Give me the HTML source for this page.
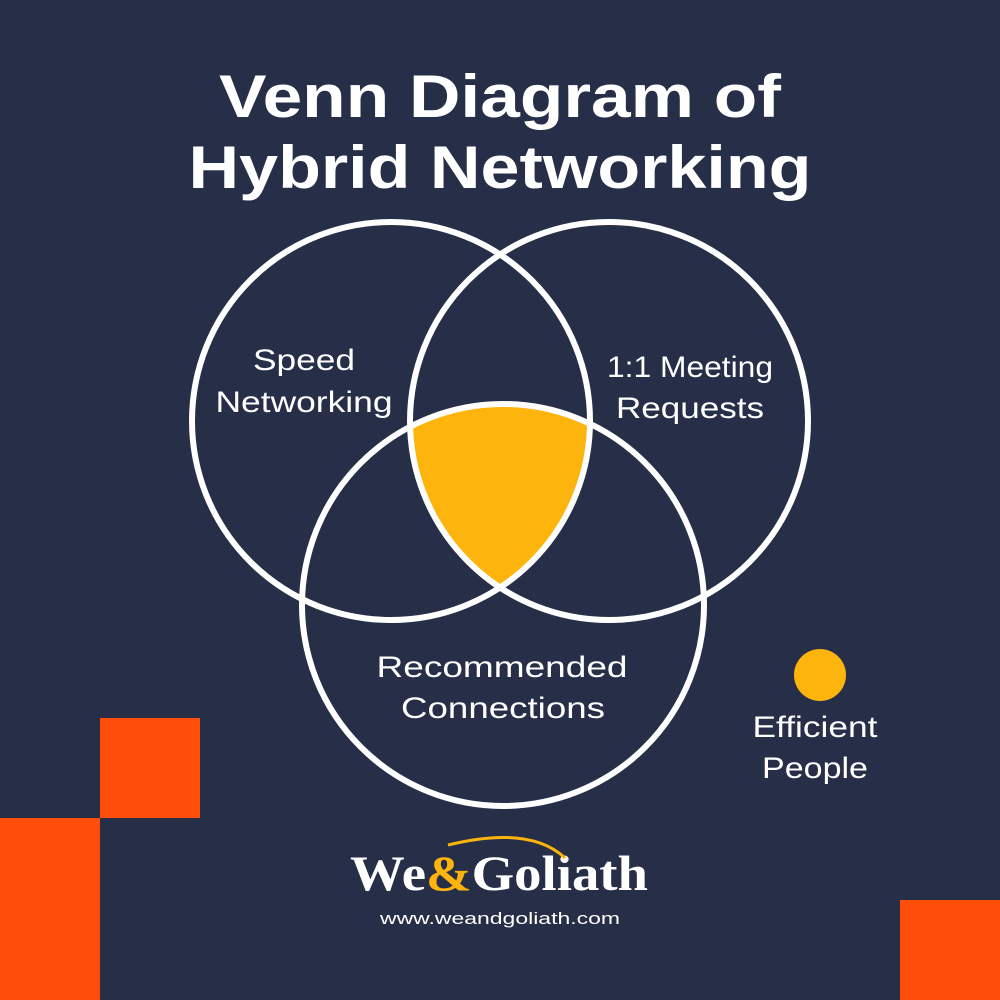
<!DOCTYPE html>
<html><head><meta charset="utf-8"><style>
html,body{margin:0;padding:0;}
body{width:1000px;height:1000px;background:#262f47;overflow:hidden;position:relative;font-family:"Liberation Sans",sans-serif;}
</style></head><body>
<svg width="1000" height="1000" viewBox="0 0 1000 1000" style="position:absolute;left:0;top:0">
<defs>
<clipPath id="c1"><circle cx="391" cy="421" r="199"/></clipPath>
<clipPath id="c2"><circle cx="609" cy="421" r="199"/></clipPath>
</defs>
<rect x="100" y="718" width="100" height="100" fill="#ff4d0a"/>
<rect x="0" y="818" width="100" height="182" fill="#ff4d0a"/>
<rect x="900" y="900" width="100" height="100" fill="#ff4d0a"/>
<g clip-path="url(#c1)"><g clip-path="url(#c2)"><circle cx="503" cy="605" r="201" fill="#fdb40c"/></g></g>
<g fill="none" stroke="#fff" stroke-width="6">
<circle cx="391" cy="421" r="199"/>
<circle cx="609" cy="421" r="199"/>
<circle cx="503" cy="605" r="201"/>
</g>
<circle cx="820" cy="675" r="26" fill="#fdb40c"/>
<g fill="#fff" font-family="Liberation Sans, sans-serif" text-anchor="middle">
<text x="500" y="117" font-size="60" font-weight="bold" textLength="562" lengthAdjust="spacingAndGlyphs">Venn Diagram of</text>
<text x="500" y="188" font-size="60" font-weight="bold" textLength="623" lengthAdjust="spacingAndGlyphs">Hybrid Networking</text>
<g font-size="30">
<text x="304" y="370" textLength="102" lengthAdjust="spacingAndGlyphs">Speed</text>
<text x="304" y="412" textLength="177" lengthAdjust="spacingAndGlyphs">Networking</text>
<text x="690" y="377" textLength="166" lengthAdjust="spacingAndGlyphs">1:1 Meeting</text>
<text x="690" y="418" textLength="148" lengthAdjust="spacingAndGlyphs">Requests</text>
<text x="502" y="677" textLength="251" lengthAdjust="spacingAndGlyphs">Recommended</text>
<text x="503" y="718" textLength="204" lengthAdjust="spacingAndGlyphs">Connections</text>
<text x="815" y="737" textLength="125" lengthAdjust="spacingAndGlyphs">Efficient</text>
<text x="815" y="778" textLength="106" lengthAdjust="spacingAndGlyphs">People</text>
</g>
<text x="499" y="890" font-family="Liberation Serif, serif" font-size="50" font-weight="bold" textLength="298" lengthAdjust="spacingAndGlyphs">We<tspan fill="#fdb40c">&amp;</tspan>Goliath</text>
<text x="500" y="924" font-size="17" textLength="240" lengthAdjust="spacingAndGlyphs">www.weandgoliath.com</text>
</g>
<path d="M448 845 Q530 825 565 858" fill="none" stroke="#fdb40c" stroke-width="3"/>
</svg>
</body></html>
